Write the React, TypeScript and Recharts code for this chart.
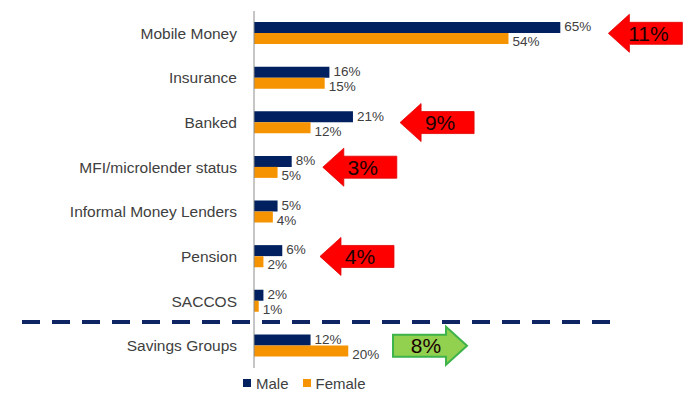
import { BarChart, Bar, XAxis, YAxis, Legend, LabelList, ReferenceDot, ReferenceLine } from 'recharts';

const categories = [
  'Mobile Money',
  'Insurance',
  'Banked',
  'MFI/microlender status',
  'Informal Money Lenders',
  'Pension',
  'SACCOS',
  'Savings Groups',
];
const maleValues = [65, 16, 21, 8, 5, 6, 2, 12];
const femaleValues = [54, 15, 12, 5, 4, 2, 1, 20];

// gap annotations (arrow start on the value axis)
const gapCategories = ['Mobile Money', 'Banked', 'MFI/microlender status', 'Pension', 'Savings Groups'];
const gapLabels = ['11%', '9%', '3%', '4%', '8%'];
const gapAt = [75.2, 31, 14.6, 14, 29.5];
const gapDirection = ['left', 'left', 'left', 'left', 'right'];

const MALE = '#002060';
const FEMALE = '#F59300';
const FONT = '"Liberation Sans", Arial, sans-serif';

const data = categories.map((name, i) => ({
  name,
  Male: maleValues[i],
  Female: femaleValues[i],
}));

function Arrow({ cx, cy, label, dir }: { cx: number; cy: number; label: string; dir: string }) {
  const len = 74;
  const head = 21;
  const body = 11;
  const wing = 19;
  let pts: string;
  let fill = '#FF0000';
  let stroke = '#E00000';
  let tx: number;
  if (dir === 'left') {
    pts = [
      [cx, cy],
      [cx + head, cy - wing],
      [cx + head, cy - body],
      [cx + len, cy - body],
      [cx + len, cy + body],
      [cx + head, cy + body],
      [cx + head, cy + wing],
    ].map((p) => p.join(',')).join(' ');
    tx = cx + len / 2 + 3;
  } else {
    fill = '#92D050';
    stroke = '#3DB34A';
    pts = [
      [cx, cy - body],
      [cx + len - head, cy - body],
      [cx + len - head, cy - wing],
      [cx + len, cy],
      [cx + len - head, cy + wing],
      [cx + len - head, cy + body],
      [cx, cy + body],
    ].map((p) => p.join(',')).join(' ');
    tx = cx + len / 2 - 4;
  }
  return (
    <g>
      <polygon points={pts} fill={fill} stroke={stroke} strokeWidth={dir === 'left' ? 0.8 : 2} />
      <text x={tx} y={cy} dy="0.36em" textAnchor="middle" fontSize={21} fill="#1a0000" fontFamily={FONT}>
        {label}
      </text>
    </g>
  );
}

function LegendContent() {
  const item = (color: string, text: string) => (
    <span style={{ display: 'inline-flex', alignItems: 'center', marginRight: 14 }}>
      <span style={{ width: 8, height: 8, background: color, display: 'inline-block', marginRight: 5 }} />
      <span>{text}</span>
    </span>
  );
  return (
    <div style={{ height: 20, display: 'flex', alignItems: 'center', fontSize: 15, color: '#404040', fontFamily: FONT }}>
      {item(MALE, 'Male')}
      {item(FEMALE, 'Female')}
    </div>
  );
}

const labelStyle = { fontSize: 13.5, fill: '#404040', fontFamily: FONT };

export default function App() {
  return (
    <div style={{ position: 'absolute', left: 0, top: 0, width: 690, height: 397, background: '#fff' }}>
      <BarChart
        width={690}
        height={397}
        layout="vertical"
        data={data}
        margin={{ top: 11, right: 59, left: 0, bottom: 9 }}
        barGap={0}
      >
        <XAxis type="number" domain={[0, 80]} hide />
        <YAxis
          type="category"
          dataKey="name"
          width={254}
          tickLine={false}
          tickSize={0}
          tickMargin={17}
          axisLine={{ stroke: '#8c8c8c' }}
          tick={{ fontSize: 15.5, fill: '#404040', fontFamily: FONT }}
          interval={0}
        />
        <Legend
          verticalAlign="bottom"
          align="left"
          content={<LegendContent />}
          wrapperStyle={{ left: 243, bottom: 4, width: 'auto' }}
        />
        <Bar dataKey="Male" fill={MALE} barSize={11} isAnimationActive={false}>
          <LabelList
            dataKey="Male"
            position="right"
            offset={4}
            formatter={(v: number) => `${v}%`}
            style={labelStyle}
            dy={-1}
          />
        </Bar>
        <Bar dataKey="Female" fill={FEMALE} barSize={11} isAnimationActive={false}>
          <LabelList
            dataKey="Female"
            position="right"
            offset={4}
            formatter={(v: number) => `${v}%`}
            style={labelStyle}
            dy={3}
          />
        </Bar>
        <ReferenceLine
          y="SACCOS"
          ifOverflow="visible"
          shape={(p: any) => (
            <line
              x1={22}
              x2={612}
              y1={p.y1 + 21}
              y2={p.y2 + 21}
              stroke="#0F2462"
              strokeWidth={4}
              strokeDasharray="18 12"
            />
          )}
        />
        {gapCategories.map((cat, i) => (
          <ReferenceDot
            key={cat}
            x={gapAt[i]}
            y={cat}
            ifOverflow="visible"
            shape={(p: any) => <Arrow cx={p.cx} cy={p.cy} label={gapLabels[i]} dir={gapDirection[i]} />}
          />
        ))}
      </BarChart>
    </div>
  );
}
